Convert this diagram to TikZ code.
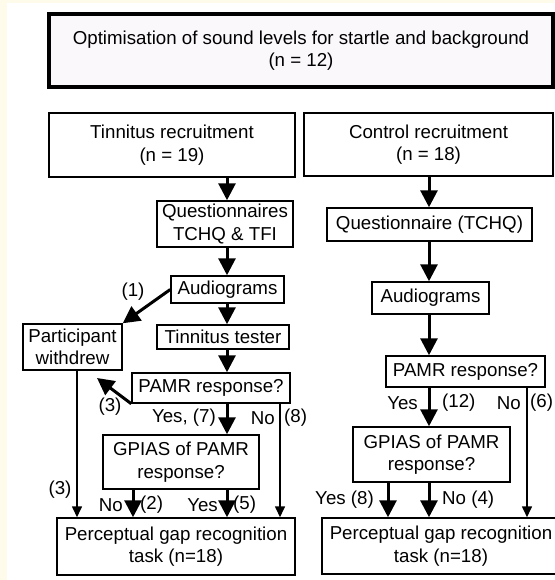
\documentclass[tikz,border=0pt]{standalone}
\usepackage{fontspec}
\setmainfont{Liberation Sans}
\usetikzlibrary{arrows.meta}
\definecolor{cream}{HTML}{FFFBEA}
\definecolor{topfill}{HTML}{FBF8FC}
\tikzset{
  box/.style={draw, line width=1.5pt, fill=white, inner sep=0pt, align=center,
    font=\fontsize{18.7}{22.5}\selectfont},
  lbl/.style={inner sep=0pt, font=\fontsize{18.7}{22.5}\selectfont},
  bigarrow/.style={line width=3pt, -{Triangle[width=17pt,length=17pt]}},
  thinarrow/.style={line width=1.6pt, -{Triangle[width=10pt,length=11pt]}},
}
\begin{document}
\begin{tikzpicture}[x=1pt,y=-1pt]
\useasboundingbox (0,0) rectangle (554,580);
\fill[cream] (0,0) rectangle (554,580);
\fill[white] (7,3) rectangle (560,590);

% nodes (centre, width, height)
\node[box, line width=3.2pt, fill=topfill, minimum width=504pt, minimum height=73pt] (top) at (301,50.5)
  {Optimisation of sound levels for startle and background\\(n = 12)};
\node[box, minimum width=246pt, minimum height=64pt] (tinrec) at (172,145) {Tinnitus recruitment\\(n = 19)};
\node[box, minimum width=249pt, minimum height=63pt] (conrec) at (428.5,144.5) {Control recruitment\\(n = 18)};

\node[box, minimum width=136pt, minimum height=46pt] (quest) at (225,224) {Questionnaires\\TCHQ \& TFI};
\node[box, minimum width=113pt, minimum height=27pt] (audl) at (227.5,289.5) {Audiograms};
\node[box, minimum width=132pt, minimum height=24pt] (tester) at (223,337) {Tinnitus tester};
\node[box, minimum width=158pt, minimum height=30pt] (pamrl) at (211,388) {PAMR response?};
\node[box, minimum width=99pt, minimum height=46pt] (withdrew) at (72.5,347) {Participant\\withdrew};
\node[box, minimum width=156pt, minimum height=54pt] (gpiasl) at (181,462) {GPIAS of PAMR\\response?};
\node[box, minimum width=238pt, minimum height=57pt] (percl) at (176,546.5) {Perceptual gap recognition\\task (n=18)};

\node[box, minimum width=205pt, minimum height=33pt] (questc) at (429.5,224.5) {Questionnaire (TCHQ)};
\node[box, minimum width=117pt, minimum height=32pt] (audr) at (430.5,298) {Audiograms};
\node[box, minimum width=159pt, minimum height=31pt] (pamrr) at (465.5,371.5) {PAMR response?};
\node[box, minimum width=157pt, minimum height=55pt] (gpiasr) at (431.5,454.5) {GPIAS of PAMR\\response?};
\node[box, minimum width=238pt, minimum height=56pt] (percr) at (441,546) {Perceptual gap recognition\\task (n=18)};

% column coordinates
\coordinate (cL) at (227,0);
\coordinate (cR) at (429,0);
\coordinate (cW) at (77,0);
\coordinate (c8) at (280,0);
\coordinate (cN2) at (133,0);
\coordinate (cY8) at (388,0);
\coordinate (c6) at (527,0);
\coordinate (w3) at (97,378);

% left column arrows
\draw[bigarrow] (cL |- tinrec.south) -- (cL |- quest.north);
\draw[bigarrow] (cL |- quest.south) -- (cL |- audl.north);
\draw[bigarrow] (cL |- audl.south) -- (cL |- tester.north);
\draw[bigarrow] (cL |- tester.south) -- (cL |- pamrl.north);
\draw[bigarrow] (audl.west) -- (withdrew.north east);
\draw[bigarrow] (pamrl.south west) -- (w3);
\draw[bigarrow] (cL |- pamrl.south) -- (cL |- gpiasl.north);
\draw[thinarrow] (c8 |- pamrl.south) -- (c8 |- percl.north);
\draw[thinarrow] (cW |- withdrew.south) -- (cW |- percl.north);
\draw[bigarrow] (cN2 |- gpiasl.south) -- (cN2 |- percl.north);
\draw[bigarrow] (cL |- gpiasl.south) -- (cL |- percl.north);

% right column arrows
\draw[bigarrow] (cR |- conrec.south) -- (cR |- questc.north);
\draw[bigarrow] (cR |- questc.south) -- (cR |- audr.north);
\draw[bigarrow] (cR |- audr.south) -- (cR |- pamrr.north);
\draw[bigarrow] (cR |- pamrr.south) -- (cR |- gpiasr.north);
\draw[thinarrow] (c6 |- pamrr.south) -- (c6 |- percr.north);
\draw[bigarrow] (cY8 |- gpiasr.south) -- (cY8 |- percr.north);
\draw[bigarrow] (cR |- gpiasr.south) -- (cR |- percr.north);

% labels
\node[lbl] (l1) at (133,292) {(1)};
\node[lbl] (l3a) at (110,407) {(3)};
\node[lbl, anchor=east] (l7) at (216,418) {Yes, (7)};
\node[lbl, anchor=east] (lno8) at (275,418) {No};
\node[lbl, anchor=west] (l8) at (284,418) {(8)};
\node[lbl] (l3b) at (60,490) {(3)};
\node[lbl, anchor=east] (lno2) at (123,505) {No};
\node[lbl, anchor=west] (l2) at (140,505) {(2)};
\node[lbl, anchor=east] (lyes5) at (218,505) {Yes};
\node[lbl, anchor=west] (l5) at (233,505) {(5)};
\node[lbl, anchor=east] (lyes12) at (418,403) {Yes};
\node[lbl, anchor=west] (l12) at (442,403) {(12)};
\node[lbl, anchor=east] (lno6) at (521,403) {No};
\node[lbl, anchor=west] (l6) at (530,403) {(6)};
\node[lbl, anchor=east] (ly8) at (374,500) {Yes (8)};
\node[lbl, anchor=west] (ln4) at (442,500) {No (4)};
\end{tikzpicture}
\end{document}
